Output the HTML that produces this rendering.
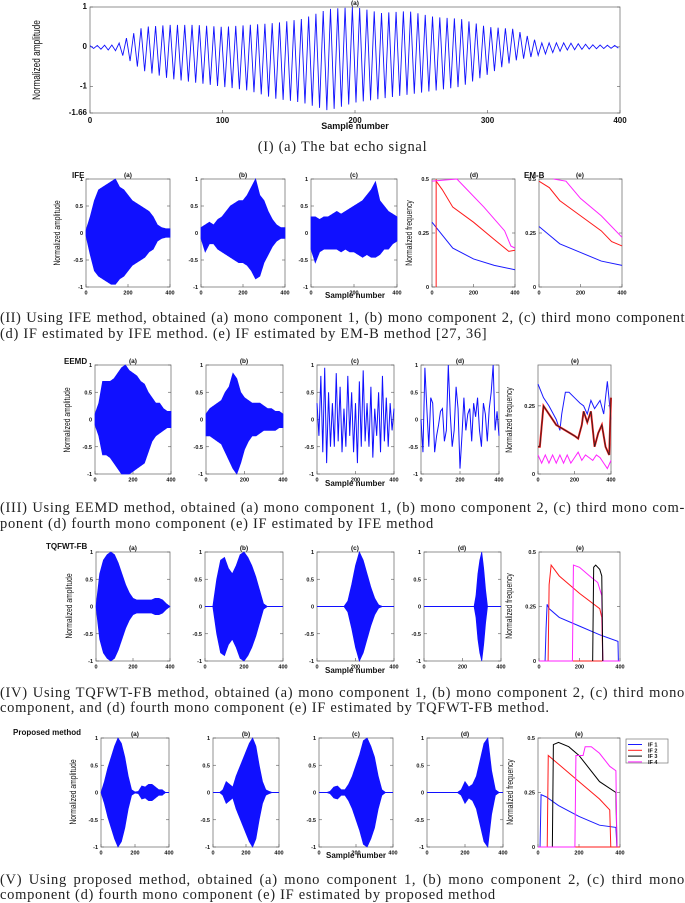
<!DOCTYPE html>
<html><head><meta charset="utf-8"><style>
body{margin:0;background:#fff;width:685px;height:901px;overflow:hidden;position:relative}
svg{position:absolute;left:0;top:0}
.cap{position:absolute;left:0;width:685px;font-family:"Liberation Serif",serif;font-size:14.5px;letter-spacing:0.7px;line-height:16px;color:#222;white-space:nowrap}
.j{text-align:justify;text-align-last:justify}
</style></head><body>
<svg id="fig" width="685" height="901" font-family="Liberation Sans, sans-serif"></svg>
<div class="cap" style="top:139px;text-align:center">(I) (a) The bat echo signal</div>
<div class="cap j" style="top:310px;letter-spacing:0.5px">(II) Using IFE method, obtained (a) mono component 1, (b) mono component 2, (c) third mono component</div>
<div class="cap" style="top:326px">(d) IF estimated by IFE method. (e) IF estimated by EM-B method [27, 36]</div>
<div class="cap j" style="top:500px">(III) Using EEMD method, obtained (a) mono component 1, (b) mono component 2, (c) third mono com-</div>
<div class="cap" style="top:516px">ponent (d) fourth mono component (e) IF estimated by IFE method</div>
<div class="cap j" style="top:685px">(IV) Using TQFWT-FB method, obtained (a) mono component 1, (b) mono component 2, (c) third mono</div>
<div class="cap" style="top:700px">component, and (d) fourth mono component (e) IF estimated by TQFWT-FB method.</div>
<div class="cap j" style="top:872px">(V) Using proposed method, obtained (a) mono component 1, (b) mono component 2, (c) third mono</div>
<div class="cap" style="top:887px">component (d) fourth mono component (e) IF estimated by proposed method</div>
<script>
const S20=[0,20,40,60,80,100,120,140,160,180,200,220,240,260,280,300,320,340,360,380,400];
const batUp=[0.03,0.05,0.5,0.55,0.55,0.5,0.55,0.6,0.7,0.95,1,0.85,0.9,0.75,0.7,0.5,0.45,0.1,0.1,0.05,0.03];
const batLow=[-0.03,-0.1,-0.6,-0.8,-0.9,-1.0,-1.1,-1.3,-1.4,-1.6,-1.4,-1.3,-1.2,-1.1,-1.0,-0.7,-0.35,-0.2,-0.08,-0.05,-0.03];
const ifeAUp=[0.05,0.3,0.6,0.8,0.85,0.9,0.95,1,0.85,0.8,0.7,0.6,0.55,0.5,0.45,0.4,0.3,0.15,0.1,0.08,0.08];
const ifeALow=[-0.05,-0.4,-0.7,-0.8,-0.85,-0.9,-0.95,-0.95,-0.85,-0.8,-0.7,-0.6,-0.55,-0.5,-0.45,-0.35,-0.3,-0.15,-0.1,-0.08,-0.08];
const ifeBUp=[0.1,0.15,0.2,0.15,0.25,0.3,0.4,0.5,0.55,0.6,0.6,0.7,0.85,1,0.7,0.6,0.4,0.25,0.15,0.1,0.1];
const ifeBLow=[-0.1,-0.35,-0.2,-0.2,-0.3,-0.35,-0.4,-0.45,-0.5,-0.55,-0.55,-0.6,-0.7,-0.85,-0.8,-0.55,-0.4,-0.25,-0.15,-0.1,-0.1];
const ifeCUp=[0.3,0.3,0.25,0.3,0.3,0.35,0.4,0.35,0.4,0.45,0.5,0.55,0.6,0.7,0.8,0.95,0.6,0.5,0.4,0.35,0.3];
const ifeCLow=[-0.3,-0.55,-0.35,-0.3,-0.3,-0.3,-0.3,-0.35,-0.3,-0.35,-0.35,-0.4,-0.45,-0.4,-0.45,-0.45,-0.4,-0.3,-0.3,-0.2,-0.15];
const eeAUp=[0.1,0.3,0.7,0.7,0.7,0.75,0.85,0.95,1,0.9,0.85,0.8,0.7,0.65,0.5,0.4,0.3,0.3,0.2,0.15,0.15];
const eeALow=[-0.1,-0.3,-0.65,-0.65,-0.7,-0.8,-0.9,-1,-1,-1,-0.95,-0.9,-0.85,-0.8,-0.6,-0.4,-0.3,-0.25,-0.2,-0.15,-0.15];
const eeBUp=[0.1,0.2,0.25,0.3,0.35,0.5,0.6,0.85,0.75,0.5,0.4,0.35,0.3,0.3,0.3,0.25,0.2,0.2,0.15,0.15,0.1];
const eeBLow=[-0.3,-0.3,-0.35,-0.4,-0.45,-0.6,-0.75,-0.9,-1,-0.8,-0.55,-0.4,-0.3,-0.3,-0.25,-0.2,-0.2,-0.2,-0.2,-0.15,-0.15];
const eeC=[0.3,-0.3,0.8,-0.6,0.95,-0.8,0.5,-0.5,0.3,-0.5,0.85,-0.4,0.6,-0.6,0.2,-0.5,0.8,-0.3,0.5,-0.6,0.3,-0.8,0.7,-0.5,0.9,-0.4,0.3,-0.5,0.6,-0.7,0.2,-0.3,0.5,-0.6,0.8,-0.4,0.4,-0.5,0.3,-0.2,0.2];
const eeD=[0,-0.6,0.95,0.2,-0.5,0.4,0.3,-0.6,-0.3,-0.1,0.15,0.2,-0.4,-0.2,1,0.1,-0.5,-0.2,0.6,0.2,-0.9,-0.3,0.4,-0.2,0.1,0.2,-0.4,0.3,0.05,0.4,-0.2,-0.5,0.3,0.1,-0.4,0.2,0.5,1,-0.2,0.15,-0.3];
const tqA=[0,0.6,0.85,0.95,1,0.95,0.8,0.6,0.4,0.25,0.15,0.12,0.12,0.12,0.12,0.12,0.15,0.15,0.12,0.05,0];
const tqB=[0,0,0,0.5,0.85,0.9,0.7,0.6,0.75,0.95,1,0.9,0.75,0.55,0.3,0.05,0,0,0,0,0];
const tqC=[0,0,0,0,0,0,0,0,0.1,0.4,0.75,1,0.85,0.6,0.35,0.15,0.03,0,0,0,0];
const tqDx=[0,260,270,280,290,300,310,320,330,400];
const tqD=[0,0,0.2,0.6,0.85,1,0.7,0.3,0,0];
const prA=[0,0.2,0.45,0.65,0.85,1,0.9,0.65,0.3,0.05,0.01,0.02,0.12,0.1,0.15,0.15,0.1,0.05,0.05,0,0];
const prB=[0,0,0,0.05,0.2,0.15,0.1,0.3,0.45,0.6,0.75,0.9,1,0.85,0.5,0.2,0.05,0.02,0,0,0];
const prC=[0,0,0,0.02,0.1,0.12,0.05,0.05,0.15,0.3,0.5,0.7,0.95,1,0.85,0.65,0.3,0.05,0,0,0];
const prD=[0,0,0,0,0,0,0,0,0,0.05,0.2,0.1,0.15,0.3,0.6,0.9,1,0.4,0.05,0,0];
const ifeDBlue=[[0,50,100,200,300,400],[0.3,0.24,0.18,0.13,0.1,0.08]];
const ifeDRedV=[[20,20],[0,0.5]];
const ifeDRed=[[20,50,100,200,300,370,400],[0.49,0.45,0.37,0.3,0.22,0.165,0.17]];
const ifeDMag=[[0,120,150,250,350,380,400],[0.49,0.5,0.47,0.37,0.26,0.19,0.18]];
const embBlue=[[0,50,100,200,300,400],[0.28,0.24,0.2,0.16,0.12,0.1]];
const embRed=[[0,50,100,200,300,350,400],[0.49,0.46,0.4,0.33,0.26,0.21,0.19]];
const embMag=[[70,130,200,300,400],[0.5,0.49,0.41,0.33,0.23]];
const eeIFBlue=[[0,30,60,100,120,130,150,170,200,230,250,270,290,310,340,360,380,400],[0.33,0.28,0.25,0.2,0.16,0.22,0.3,0.3,0.28,0.26,0.25,0.22,0.27,0.24,0.27,0.22,0.34,0.2]];
const eeIFRed=[[0,10,30,60,100,150,200,220,240,250,270,290,310,330,350,370,390,400],[0.1,0.1,0.25,0.22,0.18,0.16,0.14,0.13,0.18,0.23,0.19,0.23,0.1,0.15,0.18,0.1,0.07,0.28]];
const eeIFMag=[[0,20,40,60,80,100,120,140,160,180,200,220,240,260,280,300,320,340,360,380,400],[0.07,0.04,0.07,0.04,0.07,0.04,0.07,0.04,0.07,0.04,0.06,0.08,0.05,0.07,0.06,0.05,0.07,0.06,0.04,0.02,0.05]];
const tqIFBlue=[[30,35,40,50,100,200,300,390,392],[0,0.15,0.26,0.24,0.2,0.16,0.12,0.09,0]];
const tqIFRed=[[45,50,60,100,200,300,310,315],[0,0.35,0.44,0.39,0.31,0.24,0.2,0]];
const tqIFMag=[[0,165,170,200,250,290,310,315,400],[0,0,0.44,0.43,0.39,0.36,0.3,0,0]];
const tqIFBlack=[[265,270,280,300,310,315],[0,0.43,0.44,0.42,0.39,0]];
const prIFBlue=[[10,15,40,100,200,300,380,385],[0,0.24,0.23,0.19,0.14,0.1,0.09,0]];
const prIFRed=[[0,45,50,100,200,300,350,355,400],[0,0,0.42,0.38,0.3,0.22,0.17,0,0]];
const prIFBlack=[[70,75,100,150,200,300,380,385],[0,0.47,0.48,0.46,0.42,0.3,0.25,0]];
const prIFMag=[[0,180,185,220,230,260,300,350,380,385],[0,0,0.42,0.42,0.46,0.46,0.43,0.37,0.35,0]];
const legendLabels=['IF 1','IF 2','IF 3','IF 4'];
const legendColors=['#1a1aff','#ff1a1a','#000','#ff22ff'];

const svg=document.getElementById('fig');
const NS='http://www.w3.org/2000/svg';
function mk(tag,at,parent){const e=document.createElementNS(NS,tag);for(const k in at)e.setAttribute(k,at[k]);(parent||svg).appendChild(e);return e;}
function txt(x,y,s,size,at,parent){const t=mk('text',Object.assign({x:x,y:y,'font-size':size,fill:'#111'},at||{}),parent);t.textContent=s;return t;}
function interp(xs,ys,x){for(let i=1;i<xs.length;i++){if(x<=xs[i]){const f=(x-xs[i-1])/(xs[i]-xs[i-1]||1);return ys[i-1]+f*(ys[i]-ys[i-1]);}}return ys[ys.length-1];}

function panel(name,x0,y0,x1,y1,ymin,ymax,yticks,ylabs,xticks,fs){
  const g=mk('g',{});
  
  
  const sx=v=>x0+(v/400)*(x1-x0), sy=v=>y1-(v-ymin)/(ymax-ymin)*(y1-y0);
  const box=mk('rect',{x:x0,y:y0,width:x1-x0,height:y1-y0,fill:'none',stroke:'#777','stroke-width':0.8},g);
  
  
  yticks.forEach((v,i)=>{const y=sy(v);mk('line',{x1:x0,y1:y,x2:x0+3,y2:y,stroke:'#555','stroke-width':0.6},g);mk('line',{x1:x1,y1:y,x2:x1-3,y2:y,stroke:'#555','stroke-width':0.6},g);
    const t=txt(x0-3,y+2,ylabs[i],fs,{'text-anchor':'end','font-weight':'bold'},g);});
  xticks.forEach(v=>{const x=sx(v);mk('line',{x1:x,y1:y1,x2:x,y2:y1-3,stroke:'#555','stroke-width':0.6},g);
    const t=txt(x,y1+fs+2,String(v),fs,{'text-anchor':'middle','font-weight':'bold'},g);});
  return {g,sx,sy};
}
function envFill(p,xs,up,low,name){
  let pts=[];for(let s=0;s<=400;s+=2)pts.push(p.sx(s)+','+p.sy(interp(xs,up,s)));
  for(let s=400;s>=0;s-=2)pts.push(p.sx(s)+','+p.sy(interp(xs,low,s)));
  const e=mk('polygon',{points:pts.join(' '),fill:'#1010ff',stroke:'#1010ff','stroke-width':0.7},p.g);
  
  
  mk('line',{x1:p.sx(0),y1:p.sy(0),x2:p.sx(400),y2:p.sy(0),stroke:'#1010ff','stroke-width':1},p.g);
}
function neg(a){return a.map(v=>-v);}
function curve(p,c,color,name,w){
  const pts=c[0].map((x,i)=>p.sx(x)+','+p.sy(c[1][i])).join(' ');
  const e=mk('polyline',{points:pts,fill:'none',stroke:color,'stroke-width':w||1},p.g);
  
  
}
function series(p,vals,name){
  const step=400/(vals.length-1);
  curve(p,[vals.map((v,i)=>i*step),vals],'#1010ff',name,1);
}
function title(x,y,s,name){const t=txt(x,y,s,6.5,{'text-anchor':'middle','font-weight':'bold'});}
function ylab(x,y,s,name,size){const t=txt(0,0,s,size||9,{'text-anchor':'middle',transform:`translate(${x},${y}) rotate(-90) scale(0.75,1)`});}
function big(x,y,s,name,size){const t=txt(x,y,s,size||8,{'text-anchor':'middle','font-weight':'bold'});}
function mlab(x,y,s,name){const t=txt(x,y,s,8,{'font-weight':'bold'});}

const AMP=[-1,-0.5,0,0.5,1], AMPL=['-1','-0.5','0','0.5','1'];
const XT=[0,200,400];

(function(){
  const p=panel('bat-echo-plot',90,7,620,113,-1.66,1,[-1.66,-1,0,1],['-1.66','-1','0','1'],[0,100,200,300,400],8);
  const pts=[];let k=0;
  for(let s=0;s<=400;s+=2.75){const v=(k%2===0)?interp(S20,batUp,s):interp(S20,batLow,s);pts.push(p.sx(s)+','+p.sy(v));k++;}
  const e=mk('polyline',{points:pts.join(' '),fill:'none',stroke:'#1010ff','stroke-width':0.9},p.g);
  
  
  title(355,5,'(a)','panel-title');
  ylab(40,60,'Normalized amplitude','y-axis-title',11);
  big(355,129,'Sample number','x-axis-title',9);
})();

const r2=[179,287];
let p;
p=panel('ife-a',86,r2[0],170,r2[1],-1,1,AMP,AMPL,XT,5.5);envFill(p,S20,ifeAUp,ifeALow,'ife-component-1');
p=panel('ife-b',201,r2[0],285,r2[1],-1,1,AMP,AMPL,XT,5.5);envFill(p,S20,ifeBUp,ifeBLow,'ife-component-2');
p=panel('ife-c',311,r2[0],397,r2[1],-1,1,AMP,AMPL,XT,5.5);envFill(p,S20,ifeCUp,ifeCLow,'ife-component-3');
p=panel('ife-d',432,r2[0],515,r2[1],0,0.5,[0,0.25,0.5],['0','0.25','0.5'],XT,5.5);
curve(p,ifeDBlue,'#1a1aff','if-blue');curve(p,ifeDRedV,'#ff1a1a','if-red-vertical');curve(p,ifeDRed,'#ff1a1a','if-red');curve(p,ifeDMag,'#ff22ff','if-magenta');
p=panel('emb-e',539,r2[0],622,r2[1],0,0.5,[0,0.25,0.5],['0','0.25','0.5'],XT,5.5);
curve(p,embBlue,'#1a1aff','if-blue');curve(p,embRed,'#ff1a1a','if-red');curve(p,embMag,'#ff22ff','if-magenta');
title(128,177,'(a)','panel-title');title(243,177,'(b)','panel-title');title(354,177,'(c)','panel-title');title(474,177,'(d)','panel-title');title(580,177,'(e)','panel-title');
mlab(72,178,'IFE','method-label');mlab(524,178,'EM-B','method-label');
ylab(60,233,'Normalized amplitude','y-axis-title');ylab(412,233,'Normalized frequency','y-axis-title');
big(355,298,'Sample number','x-axis-title');

const r3=[365,474];
p=panel('eemd-a',95,r3[0],171,r3[1],-1,1,AMP,AMPL,XT,5.5);envFill(p,S20,eeAUp,eeALow,'eemd-component-1');
p=panel('eemd-b',206,r3[0],283,r3[1],-1,1,AMP,AMPL,XT,5.5);envFill(p,S20,eeBUp,eeBLow,'eemd-component-2');
p=panel('eemd-c',317,r3[0],394,r3[1],-1,1,AMP,AMPL,XT,5.5);series(p,eeC,'eemd-component-3');
p=panel('eemd-d',421,r3[0],499,r3[1],-1,1,AMP,AMPL,XT,5.5);series(p,eeD,'eemd-component-4');
p=panel('eemd-e',538,r3[0],611,r3[1],0,0.4,[0,0.25],['0','0.25'],XT,5.5);
curve(p,eeIFBlue,'#1a1aff','if-blue');curve(p,eeIFRed,'#ff1a1a','if-red',2);curve(p,eeIFRed,'#222','if-black',0.8);curve(p,eeIFMag,'#ff22ff','if-magenta');
title(133,363,'(a)','panel-title');title(244,363,'(b)','panel-title');title(355,363,'(c)','panel-title');title(460,363,'(d)','panel-title');title(575,363,'(e)','panel-title');
mlab(64,364,'EEMD','method-label');
ylab(70,420,'Normalized amplitude','y-axis-title');ylab(512,420,'Normalized frequency','y-axis-title');
big(355,486,'Sample number','x-axis-title');

const r4=[552,661];
p=panel('tq-a',96,r4[0],170,r4[1],-1,1,AMP,AMPL,XT,5.5);envFill(p,S20,tqA,neg(tqA),'tq-component-1');
p=panel('tq-b',205,r4[0],283,r4[1],-1,1,AMP,AMPL,XT,5.5);envFill(p,S20,tqB,neg(tqB),'tq-component-2');
p=panel('tq-c',317,r4[0],394,r4[1],-1,1,AMP,AMPL,XT,5.5);envFill(p,S20,tqC,neg(tqC),'tq-component-3');
p=panel('tq-d',424,r4[0],501,r4[1],-1,1,AMP,AMPL,XT,5.5);envFill(p,tqDx,tqD,neg(tqD),'tq-component-4');
p=panel('tq-e',539,r4[0],620,r4[1],0,0.5,[0,0.25,0.5],['0','0.25','0.5'],XT,5.5);
curve(p,[[0,400],[0,0]],'#ff1a1a','if-baseline');curve(p,tqIFBlue,'#1a1aff','if-blue');curve(p,tqIFRed,'#ff1a1a','if-red');curve(p,tqIFMag,'#ff22ff','if-magenta');curve(p,tqIFBlack,'#000','if-black');
title(133,550,'(a)','panel-title');title(244,550,'(b)','panel-title');title(355,550,'(c)','panel-title');title(462,550,'(d)','panel-title');title(580,550,'(e)','panel-title');
mlab(46,549,'TQFWT-FB','method-label');
ylab(72,606,'Normalized amplitude','y-axis-title');ylab(512,606,'Normalized frequency','y-axis-title');
big(355,673,'Sample number','x-axis-title');

const r5=[738,847];
p=panel('pr-a',101,r5[0],169,r5[1],-1,1,AMP,AMPL,XT,5.5);envFill(p,S20,prA,neg(prA),'proposed-component-1');
p=panel('pr-b',213,r5[0],279,r5[1],-1,1,AMP,AMPL,XT,5.5);envFill(p,S20,prB,neg(prB),'proposed-component-2');
p=panel('pr-c',319,r5[0],393,r5[1],-1,1,AMP,AMPL,XT,5.5);envFill(p,S20,prC,neg(prC),'proposed-component-3');
p=panel('pr-d',427,r5[0],503,r5[1],-1,1,AMP,AMPL,XT,5.5);envFill(p,S20,prD,neg(prD),'proposed-component-4');
p=panel('pr-e',538,r5[0],620,r5[1],0,0.5,[0,0.25,0.5],['0','0.25','0.5'],XT,5.5);
curve(p,[[0,400],[0,0]],'#ff1a1a','if-baseline');curve(p,prIFBlue,'#1a1aff','if-blue');curve(p,prIFRed,'#ff1a1a','if-red');curve(p,prIFBlack,'#000','if-black');curve(p,prIFMag,'#ff22ff','if-magenta');
title(135,736,'(a)','panel-title');title(246,736,'(b)','panel-title');title(356,736,'(c)','panel-title');title(465,736,'(d)','panel-title');title(579,736,'(e)','panel-title');
mlab(13,735,'Proposed method','method-label');
ylab(76,792,'Normalized amplitude','y-axis-title');ylab(513,792,'Normalized frequency','y-axis-title');
big(356,858,'Sample number','x-axis-title');
const lg=mk('g',{});


mk('rect',{x:626,y:739,width:42,height:24,fill:'#fff',stroke:'#777','stroke-width':0.7},lg);
legendLabels.forEach((s,i)=>{const y=744.5+i*5.8;
  const ln=mk('line',{x1:628,y1:y,x2:642,y2:y,stroke:legendColors[i],'stroke-width':1},lg);
  
  const t=txt(648,y+2,s,5.5,{'font-weight':'bold'},lg);});
</script>
</body></html>
